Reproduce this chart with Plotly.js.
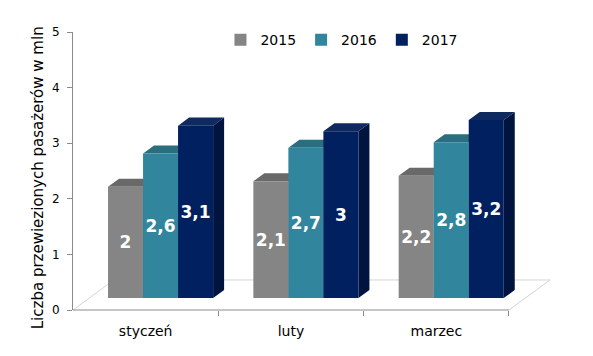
<!DOCTYPE html>
<html>
<head>
<meta charset="utf-8">
<script src="https://cdn.plot.ly/plotly-3.0.1.min.js"></script>
<style>html,body{margin:0;padding:0;background:#fff;}#chart{width:593px;height:356px;}</style>
</head>
<body>
<div id="chart"></div>
<script>
// ---- data ----
const categories = ["styczeń", "luty", "marzec"];
const seriesNames = ["2015", "2016", "2017"];
const values2015 = [2, 2.1, 2.2];
const values2016 = [2.6, 2.7, 2.8];
const values2017 = [3.1, 3, 3.2];
const yTicks = [0, 1, 2, 3, 4, 5];
const yTitle = "Liczba przewiezionych pasażerów w mln";

// ---- style ----
const allValues = [values2015, values2016, values2017];
const frontColors = ["#858585", "#31859c", "#002060"];
const topColors = ["#696969", "#2a6e80", "#0e2a5e"];
const sideColors = ["#6a6a6a", "#25697a", "#00143f"];
const catIdx = categories.map((c, i) => i);

const barW = 0.241;           // bar width in category units
const firstOffset = -0.259;   // left of first bar relative to category centre
const dx = 0.0757;            // 3D depth in x units (11px)
const dy = 0.144;             // 3D depth in y units (8px)

const traces = [];
// empty trace so the main x/y subplot (visible axes) exists
traces.push({type: "scatter", x: [], y: [], xaxis: "x", yaxis: "y", showlegend: false, hoverinfo: "skip"});
allValues.forEach((vals, k) => traces.push({
  type: "bar",
  name: seriesNames[k],
  x: catIdx,
  y: vals,
  xaxis: "x",
  yaxis: "y2",
  width: barW,
  offset: firstOffset + k * barW,
  marker: {color: frontColors[k], line: {width: 0}},
  text: vals.map(v => String(v).replace(".", ",")),
  textposition: "inside",
  insidetextanchor: "middle",
  constraintext: "none",
  textangle: 0,
  textfont: {family: "DejaVu Sans", size: 17, color: "#ffffff", weight: "bold"},
  hoverinfo: "skip"
}));

const shapes = [];
// floor (decoration) in domain coordinates
shapes.push({
  type: "path", xref: "x domain", yref: "y domain", layer: "below",
  path: "M 0.9046 0 L 0.9896 0.108 L 0.085 0.108 L 0 0",
  line: {color: "#d4d4d4", width: 1}, fillcolor: "rgba(0,0,0,0)"
});
// x axis line
shapes.push({
  type: "line", xref: "x domain", yref: "y domain", layer: "above",
  x0: 0, x1: 0.9046, y0: 0, y1: 0,
  line: {color: "#8c8c8c", width: 1}
});
// 3D faces of each bar, derived from the data
allValues.forEach((vals, k) => {
  vals.forEach((v, i) => {
    const xl = catIdx[i] + firstOffset + k * barW;
    const xr = xl + barW;
    shapes.push({
      type: "path", xref: "x", yref: "y2", layer: "below",
      path: `M ${xl} ${v} L ${xl + dx} ${v + dy} L ${xr + dx} ${v + dy} L ${xr} ${v} Z`,
      fillcolor: topColors[k], line: {width: 0}
    });
    shapes.push({
      type: "path", xref: "x", yref: "y2", layer: "below",
      path: `M ${xr} 0 L ${xr + dx} ${dy} L ${xr + dx} ${v + dy} L ${xr} ${v} Z`,
      fillcolor: sideColors[k], line: {width: 0}
    });
  });
});

const layout = {
  width: 593, height: 356,
  margin: {l: 73, r: 38, t: 32, b: 46},
  paper_bgcolor: "#ffffff", plot_bgcolor: "#ffffff",
  font: {family: "DejaVu Sans", color: "#000000"},
  barmode: "overlay",
  showlegend: true,
  legend: {
    orientation: "h", x: 0.558, xanchor: "center", y: 0.971, yanchor: "middle",
    font: {size: 14, color: "#000"}, bgcolor: "rgba(0,0,0,0)", traceorder: "normal"
  },
  xaxis: {
    range: [-0.5, 2.8166], showgrid: false, zeroline: false, showline: false,
    tickmode: "array", tickvals: catIdx, ticktext: categories, ticks: "",
    ticklabelstandoff: 11,
    tickfont: {size: 14, color: "#000"},
    minor: {tickmode: "array", tickvals: [0.5, 1.5, 2.5], ticks: "outside", ticklen: 5, tickcolor: "#8c8c8c", showgrid: false},
    fixedrange: true
  },
  yaxis: {
    range: [0, 5], tickmode: "array", tickvals: yTicks, showgrid: false, zeroline: false,
    showline: true, linecolor: "#8c8c8c", linewidth: 1,
    ticks: "outside", ticklen: 5, tickcolor: "#8c8c8c",
    ticklabelstandoff: 5,
    tickfont: {size: 12, color: "#000"},
    fixedrange: true
  },
  yaxis2: {
    overlaying: "y", range: [-0.216, 4.784], visible: false, fixedrange: true
  },
  annotations: [{
    text: yTitle, textangle: -90, showarrow: false,
    xref: "paper", yref: "paper", x: -0.072, y: 0.475, xanchor: "center", yanchor: "middle",
    font: {family: "DejaVu Sans", size: 15, color: "#000"}
  }],
  shapes: shapes
};

Plotly.newPlot("chart", traces, layout, {displayModeBar: false, staticPlot: true});
</script>
</body>
</html>
